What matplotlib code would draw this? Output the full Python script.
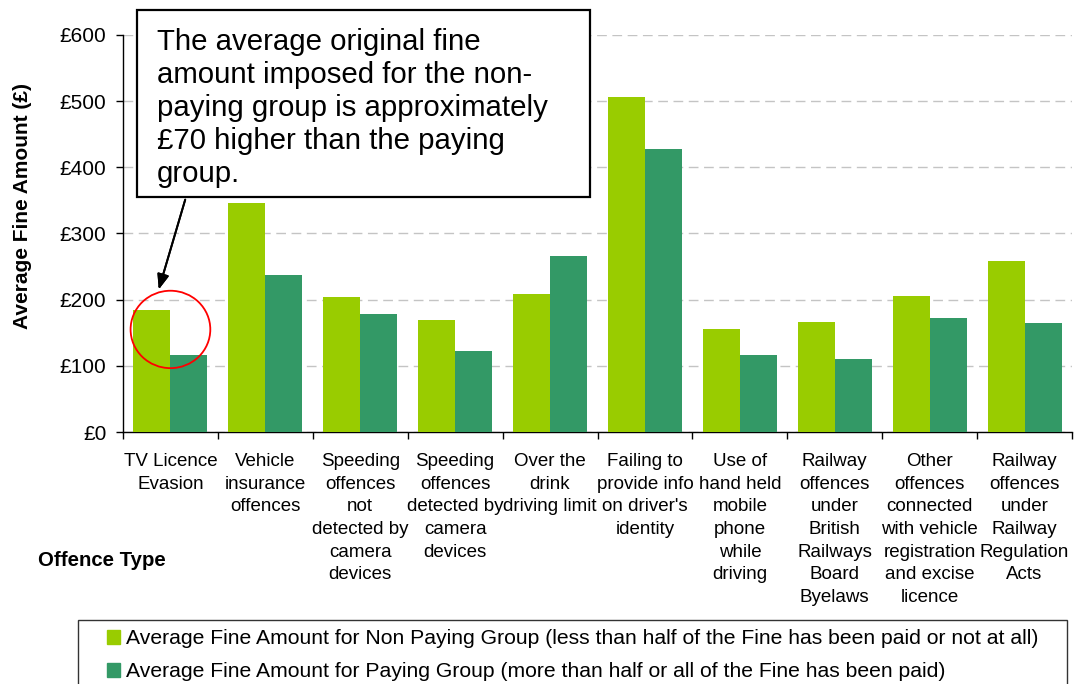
import matplotlib
matplotlib.use('Agg')
import matplotlib.pyplot as plt
from matplotlib.patches import Rectangle, Ellipse, Patch
import numpy as np

plt.rcParams['font.family'] = ['Liberation Sans', 'DejaVu Sans']

# offence categories and average fines (GBP)
offences = ["TV Licence\nEvasion",
            "Vehicle\ninsurance\noffences",
            "Speeding\noffences\nnot\ndetected by\ncamera\ndevices",
            "Speeding\noffences\ndetected by\ncamera\ndevices",
            "Over the\ndrink\ndriving limit",
            "Failing to\nprovide info\non driver's\nidentity",
            "Use of\nhand held\nmobile\nphone\nwhile\ndriving",
            "Railway\noffences\nunder\nBritish\nRailways\nBoard\nByelaws",
            "Other\noffences\nconnected\nwith vehicle\nregistration\nand excise\nlicence",
            "Railway\noffences\nunder\nRailway\nRegulation\nActs"]
non_paying = [184, 346, 204, 170, 208, 507, 155, 167, 205, 258]
paying = [116, 237, 178, 123, 266, 427, 117, 111, 172, 164]
y_ticks = [0, 100, 200, 300, 400, 500, 600]
y_tick_labels = ['£0', '£100', '£200', '£300', '£400', '£500', '£600']
legend_labels = ["Average Fine Amount for Non Paying Group (less than half of the Fine has been paid or not at all)",
                 "Average Fine Amount for Paying Group (more than half or all of the Fine has been paid)"]

green = '#99CC00'
dark_green = '#339966'

W, H = 1075, 684
fig = plt.figure(figsize=(W / 100, H / 100), dpi=100)
ax = fig.add_axes([123 / W, 1 - 432 / H, (1072 - 123) / W, (432 - 35) / H])

x = np.arange(len(offences))
bw = 0.39
ax.bar(x - bw / 2, non_paying, bw, color=green, zorder=3)
ax.bar(x + bw / 2, paying, bw, color=dark_green, zorder=3)

ax.set_xlim(-0.5, len(offences) - 0.5)
ax.set_ylim(0, 600)
ax.set_yticks(y_ticks)
ax.set_yticklabels(y_tick_labels, fontsize=15)
ax.tick_params(axis='y', length=5, pad=7, width=1)
ax.yaxis.grid(True, color='#c4c4c4', linestyle=(0, (7, 4)), lw=1, zorder=0)

# tick marks between categories, labels under category centres
ax.set_xticks(np.arange(-0.5, len(offences), 1))
ax.set_xticklabels([])
ax.set_xticks(x, minor=True)
ax.set_xticklabels(offences, minor=True, fontsize=13.5, linespacing=1.44)
ax.tick_params(axis='x', which='major', length=5, width=1, direction='out')
ax.tick_params(axis='x', which='minor', length=0, pad=15)

for s in ['top', 'right']:
    ax.spines[s].set_visible(False)
for s in ['left', 'bottom']:
    ax.spines[s].set_linewidth(1)

fig.text(23 / W, 1 - 206 / H, 'Average Fine Amount (£)', rotation=90,
         ha='center', va='center', fontsize=15, fontweight='bold')
fig.text(38 / W, 1 - 561 / H, 'Offence Type', ha='left', va='center',
         fontsize=14.7, fontweight='bold')

# red circle around the TV licence pair
ax.add_patch(Ellipse((0, 155), 0.84, 117, fill=False, edgecolor='red',
                     lw=1.3, zorder=5))

# callout box with arrow
box = Rectangle((137 / W, 1 - 197 / H), (590 - 137) / W, (197 - 10) / H,
                transform=fig.transFigure, facecolor='white', edgecolor='black',
                lw=1.6, zorder=10)
fig.add_artist(box)
fig.text(157 / W, 1 - 28 / H,
         "The average original fine\namount imposed for the non-\n"
         "paying group is approximately\n£70 higher than the paying\ngroup.",
         ha='left', va='top', fontsize=21.2, linespacing=1.225, zorder=11)
fig.add_artist(plt.annotate('', xy=(158 / W, 1 - 292 / H), xycoords='figure fraction',
                            xytext=(186 / W, 1 - 197 / H), textcoords='figure fraction',
                            arrowprops=dict(arrowstyle='-|>,head_length=0.9,head_width=0.35',
                                            color='black', lw=1.4)))

# legend with its own frame
frame = Rectangle((78 / W, 1 - 692 / H), (1067 - 78) / W, (692 - 620) / H,
                  transform=fig.transFigure, facecolor='white', edgecolor='#333333',
                  lw=1, zorder=1)
fig.add_artist(frame)
handles = [Patch(color=green), Patch(color=dark_green)]
fig.legend(handles, legend_labels, loc='upper left',
           bbox_to_anchor=(101 / W, 1 - 623 / H), frameon=False,
           fontsize=15.2, handlelength=0.62, handleheight=0.62,
           handletextpad=0.25, labelspacing=0.67, borderpad=0.3,
           borderaxespad=0)

fig.savefig('out.png', dpi=100)
